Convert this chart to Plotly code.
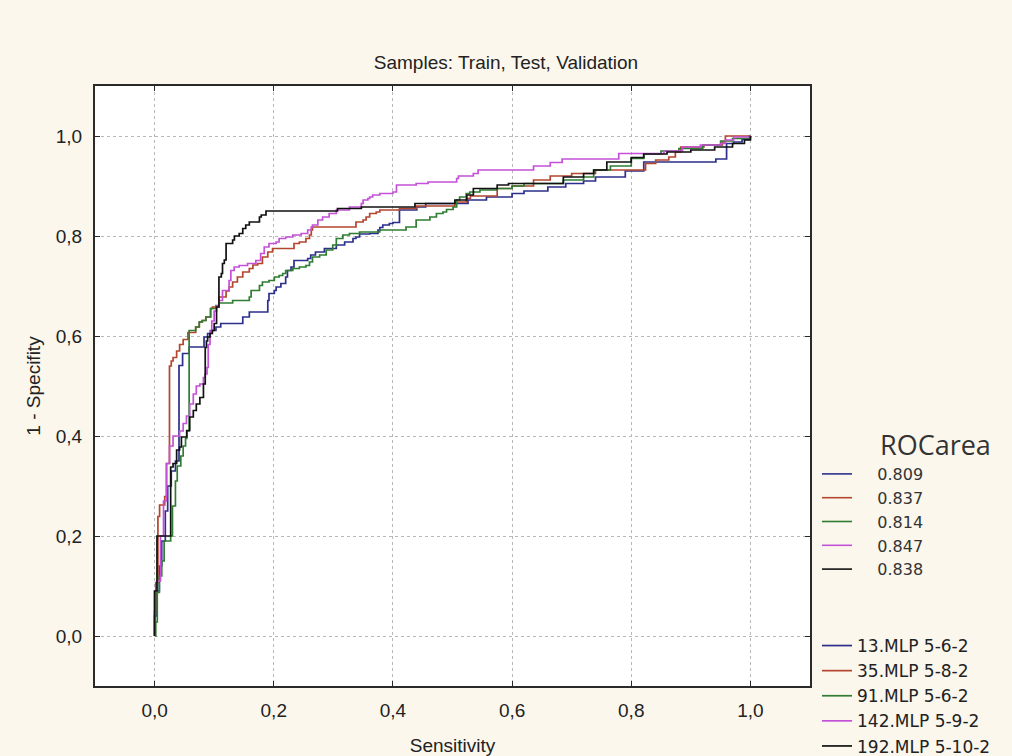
import plotly.graph_objects as go

# ---- data (ROC step curves) ----
x13 = [0, 0, 0.003, 0.008, 0.012, 0.018, 0.022, 0.028, 0.035, 0.041, 0.047, 0.058, 0.083, 0.089, 0.094, 0.103, 0.111, 0.148, 0.159, 0.19,
       0.192, 0.201, 0.204, 0.212, 0.22, 0.223, 0.229, 0.234, 0.257, 0.262, 0.27, 0.285, 0.305, 0.319, 0.333, 0.338, 0.344, 0.361, 0.375, 0.378,
       0.383, 0.394, 0.4, 0.411, 0.44, 0.455, 0.526, 0.557, 0.6, 0.62, 0.66, 0.69, 0.72, 0.74, 0.79, 0.821, 0.942, 0.96, 0.972, 0.986, 0.998, 1.0]
y13 = [0, 0.04, 0.09, 0.14, 0.19, 0.25, 0.3, 0.33, 0.35, 0.541, 0.565, 0.578, 0.598, 0.605, 0.611, 0.618, 0.625, 0.638, 0.648, 0.671,
       0.685, 0.691, 0.698, 0.705, 0.718, 0.731, 0.738, 0.751, 0.755, 0.762, 0.768, 0.775, 0.782, 0.788, 0.795, 0.798, 0.804, 0.805, 0.812, 0.817,
       0.822, 0.825, 0.827, 0.852, 0.858, 0.865, 0.872, 0.878, 0.885, 0.89, 0.898, 0.905, 0.91, 0.918, 0.93, 0.948, 0.954, 0.985, 0.988, 0.993, 1.0, 1.0]

x35 = [0, 0, 0.002, 0.0056, 0.0084, 0.017, 0.02, 0.025, 0.028, 0.031, 0.037, 0.042, 0.048, 0.056, 0.069, 0.075, 0.08, 0.086, 0.094, 0.097,
       0.108, 0.12, 0.125, 0.131, 0.139, 0.148, 0.159, 0.165, 0.173, 0.181, 0.19, 0.198, 0.234, 0.243, 0.254, 0.26, 0.263, 0.265, 0.338, 0.35,
       0.355, 0.361, 0.372, 0.378, 0.411, 0.439, 0.504, 0.523, 0.53, 0.575, 0.6, 0.636, 0.664, 0.7, 0.74, 0.824, 0.841, 0.863, 0.874, 0.883,
       0.922, 0.953, 0.958, 1.0]
y35 = [0, 0.05, 0.107, 0.239, 0.262, 0.279, 0.345, 0.54, 0.55, 0.557, 0.57, 0.583, 0.593, 0.607, 0.618, 0.628, 0.631, 0.638, 0.655, 0.658,
       0.678, 0.69, 0.698, 0.708, 0.718, 0.728, 0.735, 0.742, 0.745, 0.758, 0.768, 0.775, 0.785, 0.788, 0.795, 0.802, 0.812, 0.818, 0.828, 0.832,
       0.838, 0.845, 0.848, 0.852, 0.855, 0.86, 0.868, 0.875, 0.88, 0.895, 0.9, 0.912, 0.92, 0.925, 0.932, 0.945, 0.952, 0.958, 0.968, 0.978,
       0.982, 0.988, 1.0, 1.0]

x91 = [0, 0.002, 0.0045, 0.008, 0.012, 0.016, 0.027, 0.03, 0.035, 0.038, 0.044, 0.048, 0.052, 0.054, 0.058, 0.069, 0.075, 0.08, 0.086, 0.094,
       0.103, 0.108, 0.131, 0.159, 0.162, 0.176, 0.181, 0.192, 0.201, 0.209, 0.215, 0.22, 0.232, 0.243, 0.254, 0.26, 0.265, 0.277, 0.288, 0.299,
       0.305, 0.316, 0.327, 0.344, 0.378, 0.422, 0.439, 0.462, 0.473, 0.484, 0.49, 0.501, 0.507, 0.512, 0.523, 0.529, 0.546, 0.575, 0.6, 0.62,
       0.686, 0.72, 0.737, 0.765, 0.8, 0.821, 0.85, 0.88, 0.92, 0.95, 0.97, 1.0]
y91 = [0, 0.028, 0.087, 0.12, 0.15, 0.19, 0.2, 0.26, 0.31, 0.34, 0.36, 0.38, 0.395, 0.41, 0.611, 0.618, 0.628, 0.631, 0.638, 0.655,
       0.661, 0.666, 0.671, 0.678, 0.691, 0.701, 0.708, 0.711, 0.718, 0.721, 0.725, 0.731, 0.735, 0.738, 0.741, 0.748, 0.758, 0.762, 0.772, 0.782,
       0.795, 0.802, 0.805, 0.808, 0.812, 0.818, 0.832, 0.838, 0.845, 0.848, 0.853, 0.858, 0.872, 0.878, 0.885, 0.888, 0.892, 0.895, 0.9, 0.905,
       0.912, 0.918, 0.932, 0.94, 0.955, 0.964, 0.97, 0.975, 0.982, 0.99, 0.995, 1.0]

x142 = [0, 0, 0.004, 0.01, 0.015, 0.02, 0.025, 0.031, 0.042, 0.048, 0.0535, 0.059, 0.065, 0.07, 0.076, 0.082, 0.085, 0.088, 0.09, 0.093,
        0.096, 0.1, 0.104, 0.108, 0.114, 0.125, 0.128, 0.1335, 0.142, 0.156, 0.17, 0.178, 0.184, 0.192, 0.204, 0.209, 0.22, 0.232, 0.246, 0.257,
        0.263, 0.265, 0.274, 0.282, 0.293, 0.305, 0.327, 0.347, 0.35, 0.358, 0.361, 0.366, 0.378, 0.4, 0.406, 0.439, 0.459, 0.507, 0.51, 0.535,
        0.543, 0.636, 0.664, 0.684, 0.779, 0.855, 0.886, 0.916, 0.95, 0.958, 0.972, 1.0]
y142 = [0, 0.09, 0.11, 0.2, 0.27, 0.345, 0.38, 0.4, 0.41, 0.425, 0.44, 0.464, 0.484, 0.5, 0.504, 0.517, 0.524, 0.537, 0.583, 0.61,
        0.63, 0.65, 0.66, 0.671, 0.691, 0.711, 0.731, 0.738, 0.741, 0.745, 0.751, 0.765, 0.778, 0.785, 0.788, 0.795, 0.798, 0.802, 0.805, 0.812,
        0.818, 0.822, 0.832, 0.838, 0.845, 0.852, 0.858, 0.865, 0.872, 0.875, 0.878, 0.882, 0.885, 0.888, 0.902, 0.905, 0.908, 0.915, 0.92, 0.925,
        0.932, 0.94, 0.947, 0.954, 0.965, 0.97, 0.978, 0.982, 0.985, 0.992, 0.998, 1.0]

x192 = [0, 0, 0.004, 0.027, 0.031, 0.037, 0.042, 0.045, 0.054, 0.059, 0.065, 0.07, 0.076, 0.082, 0.085, 0.087, 0.089, 0.093, 0.097, 0.1,
        0.104, 0.108, 0.112, 0.114, 0.117, 0.12, 0.131, 0.134, 0.142, 0.148, 0.153, 0.159, 0.176, 0.179, 0.187, 0.307, 0.347, 0.437, 0.504, 0.524,
        0.535, 0.575, 0.594, 0.686, 0.72, 0.737, 0.759, 0.8, 0.821, 0.86, 0.9, 0.94, 0.97, 0.99, 1.0]
y192 = [0, 0.09, 0.2, 0.338, 0.345, 0.372, 0.378, 0.398, 0.411, 0.438, 0.451, 0.464, 0.477, 0.504, 0.577, 0.59, 0.598, 0.605, 0.611, 0.625,
        0.658, 0.718, 0.725, 0.745, 0.752, 0.785, 0.792, 0.8, 0.805, 0.815, 0.822, 0.828, 0.838, 0.842, 0.85, 0.855, 0.858, 0.865, 0.872, 0.882,
        0.895, 0.902, 0.905, 0.918, 0.925, 0.932, 0.948, 0.957, 0.964, 0.968, 0.972, 0.978, 0.985, 0.992, 1.0]

model_names = ["13.MLP 5-6-2", "35.MLP 5-8-2", "91.MLP 5-6-2", "142.MLP 5-9-2", "192.MLP 5-10-2"]
roc_areas = ["0.809", "0.837", "0.814", "0.847", "0.838"]
colors = ["#2c2f8c", "#b4452e", "#2f7d32", "#c452d8", "#111111"]
tick_vals = [0.0, 0.2, 0.4, 0.6, 0.8, 1.0]
tick_text = ["0,0", "0,2", "0,4", "0,6", "0,8", "1,0"]

xs = [x13, x35, x91, x142, x192]
ys = [y13, y35, y91, y142, y192]

fig = go.Figure()
for name, xv, yv, c in zip(model_names, xs, ys, colors):
    fig.add_trace(go.Scatter(x=xv, y=yv, mode="lines", name=name,
                             line=dict(color=c, width=1.7, shape="hv"),
                             legend="legend"))

for i, (area, c) in enumerate(zip(roc_areas, colors)):
    fig.add_trace(go.Scatter(x=[None], y=[None], mode="lines",
                             name="\u00a0\u00a0\u00a0\u00a0" + area,
                             line=dict(color=c, width=1.6),
                             legend="legend2", legendgroup="g%d" % i))

axis_common = dict(
    range=[-0.1, 1.1], tickvals=tick_vals, ticktext=tick_text,
    showgrid=True, gridcolor="#b8b8b8", griddash="dot", gridwidth=1,
    zeroline=False, showline=True, linecolor="#2a2a2a", linewidth=2,
    mirror="allticks", ticks="inside", ticklen=5, tickcolor="#2a2a2a",
    tickfont=dict(family="Liberation Sans, Arial", size=19, color="#222"),
    automargin=False,
)

fig.update_xaxes(**axis_common,
                 title=dict(text="Sensitivity", standoff=28,
                            font=dict(family="Liberation Sans, Arial", size=19, color="#222")),
                 ticklabelstandoff=6)
fig.update_yaxes(**axis_common,
                 title=dict(text="1 - Specifity", standoff=10,
                            font=dict(family="Liberation Sans, Arial", size=19, color="#222")),
                 ticklabelstandoff=7)

fig.update_layout(
    width=1012, height=756,
    paper_bgcolor="#fbf7ed", plot_bgcolor="white",
    margin=dict(l=95, r=202, t=86, b=70, autoexpand=False),
    title=dict(text="Samples: Train, Test, Validation", x=0.5, xref="container", xanchor="center",
               y=1 - 62 / 756, yref="container", yanchor="middle",
               font=dict(family="Liberation Sans, Arial", size=19, color="#222")),
    showlegend=True,
    legend=dict(xref="container", yref="container", x=817 / 1012, xanchor="left",
                y=1 - 628 / 756, yanchor="top", bgcolor="rgba(0,0,0,0)",
                font=dict(family="DejaVu Sans", size=17, color="#222"),
                traceorder="normal", tracegroupgap=0, itemwidth=30),
    legend2=dict(xref="container", yref="container", x=817 / 1012, xanchor="left",
                 y=1 - 457 / 756, yanchor="top", bgcolor="rgba(0,0,0,0)",
                 font=dict(family="DejaVu Sans", size=16, color="#333"),
                 traceorder="normal", tracegroupgap=5, itemwidth=30),
    annotations=[dict(text="ROCarea", xref="paper", yref="paper", x=(878 - 95) / 715, y=(686 - 444) / 600,
                      xanchor="left", yanchor="middle", showarrow=False,
                      font=dict(family="Open Sans", size=27, color="#333"))],
)

fig.write_html("out.html", config={"displayModeBar": False},
               post_script="document.body.style.margin='0';document.body.style.background='#fbf7ed';")
